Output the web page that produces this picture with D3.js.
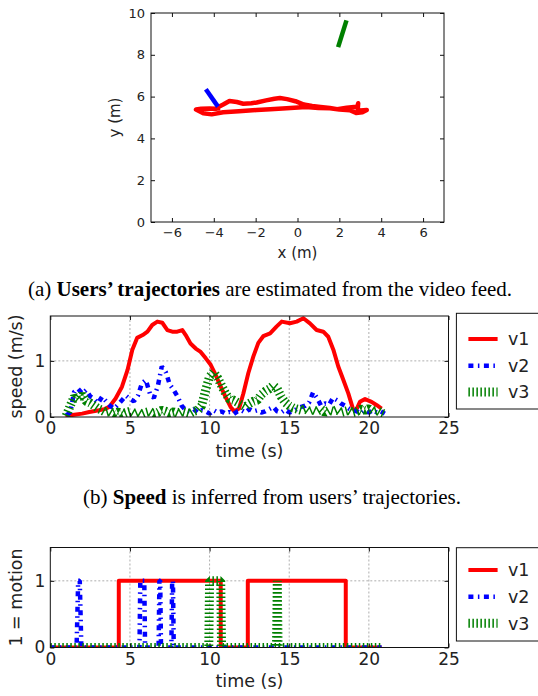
<!DOCTYPE html>
<html>
<meta charset="utf-8">
<title>Trajectories, speed and motion</title>
<style>
body {
  margin: 0;
  background: #fff;
}

svg {
  display: block;
  font-family: "DejaVu Sans", sans-serif;
}

.frame {
  fill: none;
  stroke: #111;
  stroke-width: 1;
}

.tick line {
  stroke: #111;
}

.tick text {
  fill: #222;
}

.grid line {
  stroke: #999;
  stroke-width: .8;
  stroke-dasharray: 2,2;
}

.label {
  fill: #222;
  text-anchor: middle;
}

.caption {
  font-family: "Liberation Serif", "Times New Roman", serif;
  font-size: 21px;
  fill: #000;
  text-anchor: middle;
}

.legend rect {
  fill: #fff;
  stroke: #111;
  stroke-width: 1;
}
</style>
<body>
<div id="chart"></div>
<script src="https://d3js.org/d3.v7.min.js"></script>
<script>

// (a) trajectories, [x, y] in metres
var trajV1 = [
  [-3.78, 5.50], [-3.55, 5.62], [-3.25, 5.79], [-2.90, 5.74], [-2.59, 5.66], [-2.20, 5.68],
  [-1.95, 5.72], [-1.50, 5.82], [-1.10, 5.90], [-0.84, 5.93], [-0.50, 5.88], [-0.10, 5.78],
  [0.30, 5.62], [0.70, 5.55], [1.10, 5.50], [1.55, 5.45], [1.90, 5.40], [2.35, 5.47],
  [2.70, 5.50], [2.85, 5.50], [2.90, 5.68], [2.88, 5.40], [3.00, 5.33], [3.31, 5.36],
  [3.10, 5.25], [2.80, 5.22], [2.50, 5.35], [2.00, 5.38], [1.55, 5.44], [1.00, 5.46],
  [0.40, 5.50], [-0.52, 5.44], [-1.30, 5.40], [-1.95, 5.36], [-2.80, 5.30], [-3.55, 5.25],
  [-4.10, 5.15], [-4.50, 5.20], [-4.85, 5.38], [-4.60, 5.42], [-4.20, 5.43], [-3.90, 5.42],
  [-3.70, 5.45]
];
var trajV2 = [[-4.38, 6.35], [-3.80, 5.52]];
var trajV3 = [[2.34, 9.65], [1.94, 8.37]];

// (b) speed, m/s
var speedV1 = [
  [0.95, 0.02], [1.5, 0.04], [2.0, 0.06], [2.45, 0.09], [3.05, 0.12], [3.4, 0.14], [3.7, 0.18],
  [4.1, 0.33], [4.5, 0.54], [4.85, 0.84], [5.15, 1.20], [5.45, 1.41], [5.8, 1.46], [6.1, 1.52],
  [6.4, 1.64], [6.72, 1.70], [7.03, 1.68], [7.35, 1.55], [7.66, 1.52], [7.97, 1.52], [8.29, 1.55],
  [8.5, 1.46], [8.8, 1.31], [9.13, 1.22], [9.44, 1.16], [9.75, 1.05], [10.07, 0.93], [10.38, 0.75],
  [10.7, 0.54], [11.0, 0.36], [11.32, 0.18], [11.55, 0.10], [11.85, 0.15], [12.12, 0.42],
  [12.43, 0.78], [12.75, 1.08], [13.06, 1.32], [13.37, 1.44], [13.8, 1.49], [14.2, 1.61],
  [14.53, 1.70], [15.05, 1.67], [15.47, 1.70], [15.89, 1.76], [16.3, 1.67], [16.72, 1.55],
  [17.14, 1.52], [17.45, 1.43], [17.77, 1.20], [18.08, 0.90], [18.4, 0.66], [18.71, 0.42],
  [19.0, 0.15], [19.2, 0.12], [19.44, 0.27], [19.76, 0.32], [20.17, 0.27], [20.5, 0.21], [20.8, 0.15]
];

var speedTime = [
  1.0, 1.25, 1.5, 1.75, 2.0, 2.25, 2.5, 2.75, 3.0, 3.25, 3.5, 3.75, 4.0, 4.25, 4.5, 4.75,
  5.0, 5.25, 5.5, 5.75, 6.0, 6.25, 6.5, 6.75, 7.0, 7.25, 7.5, 7.75, 8.0, 8.25, 8.5, 8.75,
  9.0, 9.25, 9.5, 9.75, 10.0, 10.25, 10.5, 10.75, 11.0, 11.25, 11.5, 11.75, 12.0, 12.25, 12.5, 12.75,
  13.0, 13.25, 13.5, 13.75, 14.0, 14.25, 14.5, 14.75, 15.0, 15.25, 15.5, 15.75, 16.0, 16.25, 16.5, 16.75,
  17.0, 17.25, 17.5, 17.75, 18.0, 18.25, 18.5, 18.75, 19.0, 19.25, 19.5, 19.75, 20.0, 20.25, 20.5, 20.75,
  21.0
];
var speedV2 = [
  0.03, 0.08, 0.45, 0.50, 0.42, 0.48, 0.37, 0.32, 0.25, 0.36, 0.28, 0.20, 0.15, 0.22, 0.30, 0.38,
  0.32, 0.28, 0.38, 0.60, 0.66, 0.42, 0.34, 0.55, 0.90, 0.80, 0.58, 0.48, 0.36, 0.20, 0.12, 0.10,
  0.14, 0.08, 0.12, 0.10, 0.06, 0.12, 0.08, 0.10, 0.06, 0.09, 0.05, 0.10, 0.12, 0.08, 0.14, 0.10,
  0.12, 0.08, 0.10, 0.14, 0.18, 0.10, 0.08, 0.13, 0.08, 0.10, 0.15, 0.18, 0.20, 0.26, 0.44, 0.34,
  0.20, 0.24, 0.22, 0.34, 0.30, 0.24, 0.20, 0.15, 0.12, 0.10, 0.06, 0.12, 0.08, 0.12, 0.08, 0.10,
  0.06
];
var speedV3 = [
  0.02, 0.20, 0.36, 0.30, 0.40, 0.28, 0.25, 0.20, 0.15, 0.12, 0.08, 0.10, 0.06, 0.09, 0.05, 0.08,
  0.10, 0.06, 0.09, 0.05, 0.08, 0.10, 0.06, 0.08, 0.12, 0.10, 0.07, 0.09, 0.06, 0.10, 0.08, 0.06,
  0.10, 0.12, 0.20, 0.48, 0.72, 0.80, 0.70, 0.56, 0.42, 0.32, 0.30, 0.26, 0.22, 0.18, 0.24, 0.28,
  0.30, 0.40, 0.46, 0.50, 0.56, 0.50, 0.36, 0.26, 0.20, 0.16, 0.14, 0.12, 0.15, 0.10, 0.13, 0.10,
  0.14, 0.08, 0.12, 0.10, 0.13, 0.08, 0.10, 0.12, 0.08, 0.10, 0.14, 0.12, 0.15, 0.10, 0.12, 0.08,
  0.05
];

// (c) motion flag, [time, 0/1]
var motionV1 = [[0, 0], [4.3, 0], [4.3, 1], [10.7, 1], [10.7, 0], [12.4, 0], [12.4, 1], [18.55, 1], [18.55, 0], [20.8, 0]];
var motionV2 = [
  [0, 0], [1.65, 0], [1.75, 1], [1.85, 1], [1.95, 0], [5.6, 0], [5.65, 1], [5.9, 1], [5.95, 0],
  [6.8, 0], [6.85, 1], [6.9, 1], [6.95, 0], [7.6, 0], [7.65, 1], [7.7, 1], [7.75, 0], [20.8, 0]
];
var motionV3 = [[0, 0], [9.95, 0], [10.0, 1], [10.7, 1], [10.75, 0], [14.2, 0], [14.25, 1], [14.3, 0], [20.8, 0]];

var seriesNames = ["v1", "v2", "v3"];
var timeTicks = [0, 5, 10, 15, 20, 25];

var style = {
  v1: { stroke: "#ff0000", width: 4, dash: null },
  v2: { stroke: "#0000ff", width: 4.5, dash: "5,4.5,1.5,4.5" },
  v3: { stroke: "#008000", width: 9, dash: "1.5,2.5" }
};

var width = 538,
  height = 696;

var svg = d3.select("#chart").append("svg")
  .attr("width", width)
  .attr("height", height);

svg.append("rect").attr("width", width).attr("height", height).attr("fill", "#fff");

function pairs(t, v) {
  return t.map(function(d, i) { return [d, v[i]]; });
}

function clip(id, x0, y0, w, h) {
  svg.append("clipPath").attr("id", id)
    .append("rect").attr("x", x0).attr("y", y0).attr("width", w).attr("height", h);
}

function axes(x, y, xTicks, yTicks, fontSize, padX, padY) {
  var x0 = x.range()[0], x1 = x.range()[1], y0 = y.range()[0], y1 = y.range()[1];
  var fmt = d3.format("d");
  function tidy(g) {
    g.select(".domain").remove();
    g.attr("font-family", null).attr("font-size", fontSize);
  }
  svg.append("g").attr("transform", "translate(0," + y0 + ")")
    .call(d3.axisBottom(x).tickValues(xTicks).tickFormat(fmt).tickSizeInner(-4).tickSizeOuter(0).tickPadding(padX))
    .call(tidy);
  svg.append("g").attr("transform", "translate(0," + y1 + ")")
    .call(d3.axisTop(x).tickValues(xTicks).tickFormat("").tickSizeInner(-4).tickSizeOuter(0))
    .call(tidy);
  svg.append("g").attr("transform", "translate(" + x0 + ",0)")
    .call(d3.axisLeft(y).tickValues(yTicks).tickFormat(fmt).tickSizeInner(-4).tickSizeOuter(0).tickPadding(padY))
    .call(tidy);
  svg.append("g").attr("transform", "translate(" + x1 + ",0)")
    .call(d3.axisRight(y).tickValues(yTicks).tickFormat("").tickSizeInner(-4).tickSizeOuter(0))
    .call(tidy);
  svg.append("rect").attr("class", "frame")
    .attr("x", x0).attr("y", y1).attr("width", x1 - x0).attr("height", y0 - y1);
}

function drawLine(data, x, y, s, clipId, w) {
  svg.append("path")
    .datum(data)
    .attr("clip-path", "url(#" + clipId + ")")
    .attr("fill", "none")
    .attr("stroke", s.stroke)
    .attr("stroke-width", w || s.width)
    .attr("stroke-dasharray", s.dash)
    .attr("stroke-linejoin", s.dash ? "bevel" : "round")
    .attr("d", d3.line().x(function(d) { return x(d[0]); }).y(function(d) { return y(d[1]); }));
}

// ---- (a) trajectories
var xT = d3.scaleLinear().domain([-7, 7]).range([151, 444]),
  yT = d3.scaleLinear().domain([0, 10]).range([222, 13]);

clip("clipT", 151, 13, 293, 209);
[trajV1, trajV2, trajV3].forEach(function(d, i) {
  drawLine(d, xT, yT, { stroke: style[seriesNames[i]].stroke, dash: null }, "clipT", 4.5);
});
axes(xT, yT, [-6, -4, -2, 0, 2, 4, 6], [0, 2, 4, 6, 8, 10], 13, 6, 6);

svg.append("text").attr("class", "label").attr("font-size", 15)
  .attr("x", 297.5).attr("y", 258).text("x (m)");
svg.append("text").attr("class", "label").attr("font-size", 15)
  .attr("transform", "translate(120,117.5) rotate(-90)").text("y (m)");

svg.append("text").attr("class", "caption").attr("x", 270).attr("y", 296)
  .call(function(t) {
    t.append("tspan").text("(a) ");
    t.append("tspan").attr("font-weight", "bold").text("Users’ trajectories");
    t.append("tspan").text(" are estimated from the video feed.");
  });

// ---- (b) and (c) time panels
function timePanel(o) {
  var x = d3.scaleLinear().domain([0, 25]).range([50.3, 448.5]),
    y = d3.scaleLinear().domain([0, o.yMax]).range([o.bottom, o.top]);

  var grid = svg.append("g").attr("class", "grid");
  grid.selectAll(".gx").data([5, 10, 15, 20]).enter().append("line")
    .attr("x1", x).attr("x2", x).attr("y1", o.top).attr("y2", o.bottom);
  grid.append("line")
    .attr("x1", 50.3).attr("x2", 448.5).attr("y1", y(1)).attr("y2", y(1));

  clip(o.id, 50.3, o.top, 398.2, o.bottom - o.top);
  o.series.forEach(function(d, i) {
    drawLine(d, x, y, style[seriesNames[i]], o.id);
  });

  axes(x, y, timeTicks, [0, 1], 17, 5, 5);

  svg.append("text").attr("class", "label").attr("font-size", 17.5)
    .attr("x", 249.4).attr("y", o.xLabelY).text("time (s)");
  svg.append("text").attr("class", "label").attr("font-size", 17.5)
    .attr("transform", "translate(22," + ((o.top + o.bottom) / 2) + ") rotate(-90)")
    .text(o.yLabel);

  var lg = svg.append("g").attr("class", "legend");
  lg.append("rect").attr("x", 456.4).attr("y", o.legendTop)
    .attr("width", 120).attr("height", o.legendBottom - o.legendTop);
  seriesNames.forEach(function(n, i) {
    var yy = o.legendRows[i];
    lg.append("line")
      .attr("x1", 468.4).attr("x2", 497.6).attr("y1", yy).attr("y2", yy)
      .attr("stroke", style[n].stroke).attr("stroke-width", style[n].width)
      .attr("stroke-dasharray", style[n].dash);
    lg.append("text").attr("x", 508).attr("y", yy).attr("dy", "0.36em")
      .attr("font-size", 17.5).attr("fill", "#222").text(n);
  });
}

timePanel({
  id: "clipS", top: 316, bottom: 417, yMax: 1.8, yLabel: "speed (m/s)", xLabelY: 456.5,
  series: [speedV1, pairs(speedTime, speedV2), pairs(speedTime, speedV3)],
  legendTop: 313.3, legendBottom: 409, legendRows: [339, 365.7, 392]
});

svg.append("text").attr("class", "caption").attr("x", 272).attr("y", 504)
  .call(function(t) {
    t.append("tspan").text("(b) ");
    t.append("tspan").attr("font-weight", "bold").text("Speed");
    t.append("tspan").text(" is inferred from users’ trajectories.");
  });

timePanel({
  id: "clipM", top: 547.5, bottom: 647.5, yMax: 1.5, yLabel: "1 = motion", xLabelY: 686.5,
  series: [motionV1, motionV2, motionV3],
  legendTop: 547.7, legendBottom: 641, legendRows: [570, 596.7, 623.3]
});

</script>
